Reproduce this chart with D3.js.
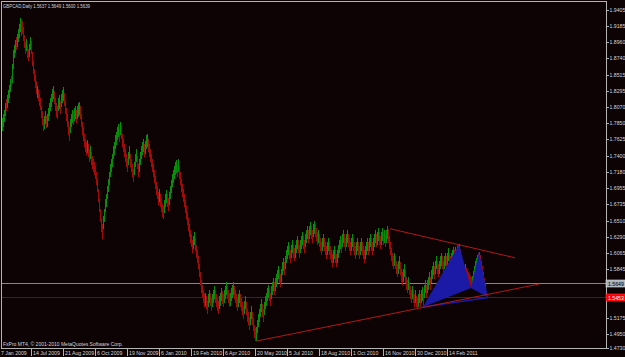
<!DOCTYPE html>
<html>
<head>
<meta charset="utf-8">
<style>
  body { margin: 0; background: #0d0305; }
  svg text { font-family: "Liberation Sans", Arial, sans-serif; fill: #d6d6d6; }
</style>
</head>
<body>
<svg id="chart" width="625" height="357"></svg>
<script src="https://cdn.jsdelivr.net/npm/d3@7/dist/d3.min.js"></script>
<script>
const titleText = "GBPCAD,Daily  1.5637 1.5649 1.5600 1.5639";
const copyrightText = "FxPro MT4, \u00a9 2001-2010 MetaQuotes Software Corp.";

// 1.5620 and 1.5400 sit under the price boxes, so they are not labelled
const priceTicks = [1.9405, 1.9185, 1.8960, 1.8740, 1.8515, 1.8295, 1.8070, 1.7850, 1.7625, 1.7400, 1.7180,
  1.6955, 1.6735, 1.6510, 1.6290, 1.6065, 1.5845, 1.5175, 1.4950, 1.4730];
const dateLabels = ["7 Jan 2009", "14 Jul 2009", "21 Aug 2009", "6 Oct 2009", "19 Nov 2009", "6 Jan 2010",
  "19 Feb 2010", "6 Apr 2010", "20 May 2010", "5 Jul 2010", "18 Aug 2010", "1 Oct 2010", "16 Nov 2010",
  "30 Dec 2010", "14 Feb 2011"];
const dateBars = [0, 32, 64, 96, 128, 160, 192, 224, 256, 288, 320, 352, 384, 416, 448];

// daily bars, oldest first
const highs = [
  1.792,1.797,1.803,1.812,1.818,1.824,1.830,1.838,1.846,1.850,
  1.866,1.886,1.893,1.899,1.903,1.908,1.914,1.921,1.929,1.928,
  1.925,1.917,1.906,1.897,1.900,1.893,1.887,1.894,1.904,1.898,
  1.883,1.871,1.860,1.851,1.843,1.836,1.832,1.825,1.820,1.809,
  1.801,1.791,1.795,1.801,1.795,1.798,1.806,1.812,1.820,1.825,
  1.832,1.836,1.829,1.819,1.812,1.809,1.819,1.823,1.815,1.825,
  1.831,1.834,1.826,1.815,1.806,1.798,1.788,1.779,1.790,1.798,
  1.803,1.801,1.806,1.809,1.803,1.809,1.812,1.814,1.809,1.798,
  1.787,1.779,1.770,1.763,1.759,1.762,1.756,1.750,1.754,1.745,
  1.740,1.736,1.732,1.726,1.718,1.708,1.694,1.681,1.667,1.653,
  1.646,1.657,1.667,1.681,1.688,1.699,1.708,1.718,1.729,1.736,
  1.743,1.754,1.759,1.768,1.773,1.780,1.784,1.777,1.787,1.781,
  1.770,1.763,1.756,1.750,1.743,1.736,1.745,1.754,1.743,1.736,
  1.729,1.722,1.732,1.743,1.750,1.740,1.729,1.736,1.745,1.754,
  1.759,1.763,1.756,1.761,1.768,1.770,1.763,1.756,1.750,1.743,
  1.736,1.729,1.721,1.712,1.704,1.699,1.690,1.694,1.688,1.681,
  1.674,1.671,1.679,1.688,1.693,1.688,1.682,1.690,1.699,1.707,
  1.715,1.721,1.726,1.732,1.734,1.729,1.736,1.726,1.718,1.708,
  1.701,1.694,1.688,1.679,1.671,1.663,1.654,1.646,1.638,1.632,
  1.624,1.630,1.635,1.627,1.618,1.610,1.602,1.591,1.580,1.569,
  1.563,1.555,1.550,1.552,1.547,1.541,1.550,1.556,1.552,1.544,
  1.550,1.555,1.561,1.555,1.550,1.544,1.541,1.547,1.552,1.558,
  1.554,1.550,1.555,1.561,1.566,1.561,1.555,1.550,1.552,1.558,
  1.563,1.566,1.561,1.555,1.550,1.544,1.550,1.555,1.550,1.544,
  1.539,1.533,1.541,1.547,1.539,1.530,1.525,1.519,1.525,1.533,
  1.525,1.517,1.508,1.503,1.505,1.514,1.522,1.530,1.536,1.543,
  1.536,1.529,1.539,1.547,1.552,1.558,1.563,1.558,1.552,1.561,
  1.566,1.572,1.566,1.572,1.577,1.583,1.588,1.583,1.577,1.585,
  1.594,1.599,1.594,1.602,1.610,1.616,1.621,1.616,1.610,1.618,
  1.624,1.618,1.613,1.618,1.624,1.630,1.624,1.618,1.624,1.630,
  1.635,1.630,1.624,1.632,1.638,1.643,1.638,1.643,1.649,1.643,
  1.638,1.646,1.650,1.646,1.641,1.635,1.638,1.632,1.627,1.621,
  1.627,1.632,1.627,1.621,1.616,1.621,1.627,1.621,1.616,1.610,
  1.605,1.610,1.616,1.610,1.605,1.610,1.618,1.624,1.630,1.624,
  1.632,1.638,1.632,1.627,1.632,1.638,1.632,1.627,1.621,1.627,
  1.632,1.627,1.621,1.616,1.621,1.627,1.621,1.616,1.621,1.627,
  1.621,1.616,1.610,1.616,1.621,1.627,1.621,1.627,1.632,1.627,
  1.621,1.627,1.632,1.638,1.632,1.635,1.641,1.635,1.630,1.635,
  1.641,1.635,1.638,1.632,1.638,1.643,1.640,1.630,1.621,1.613,
  1.607,1.602,1.607,1.602,1.596,1.591,1.596,1.602,1.594,1.585,
  1.580,1.585,1.591,1.583,1.574,1.569,1.574,1.566,1.561,1.555,
  1.561,1.555,1.550,1.555,1.547,1.545,1.550,1.555,1.550,1.555,
  1.560,1.552,1.563,1.569,1.563,1.569,1.574,1.580,1.574,1.583,
  1.588,1.594,1.588,1.596,1.602,1.596,1.591,1.596,1.602,1.607,
  1.602,1.596,1.602,1.607,1.602,1.607,1.613,1.607,1.602,1.607,
  1.611,1.614,1.610,1.615,1.612,1.616,1.617,1.619,1.612,1.604,
  1.597,1.592,1.588,1.591,1.586,1.583,1.580,1.577,1.575,1.574,
  1.575,1.582,1.589,1.595,1.600,1.604,1.606,1.608,1.603,1.596,
  1.588,1.580,1.572,1.565
];
const lows = [
  1.774,1.779,1.787,1.795,1.801,1.806,1.812,1.820,1.828,1.834,
  1.840,1.860,1.874,1.882,1.885,1.890,1.896,1.902,1.910,1.905,
  1.908,1.898,1.888,1.880,1.884,1.875,1.870,1.876,1.886,1.880,
  1.864,1.853,1.843,1.833,1.825,1.819,1.815,1.808,1.803,1.792,
  1.783,1.774,1.777,1.784,1.778,1.780,1.788,1.795,1.802,1.807,
  1.814,1.818,1.811,1.801,1.794,1.791,1.801,1.805,1.797,1.807,
  1.813,1.816,1.808,1.797,1.788,1.780,1.769,1.761,1.772,1.780,
  1.785,1.783,1.788,1.791,1.785,1.791,1.794,1.796,1.791,1.780,
  1.769,1.761,1.752,1.745,1.741,1.744,1.738,1.732,1.736,1.727,
  1.722,1.718,1.714,1.708,1.700,1.690,1.676,1.663,1.649,1.635,
  1.626,1.639,1.649,1.663,1.670,1.681,1.690,1.700,1.711,1.718,
  1.725,1.736,1.741,1.750,1.755,1.762,1.766,1.759,1.769,1.763,
  1.752,1.745,1.738,1.732,1.725,1.718,1.727,1.736,1.725,1.718,
  1.711,1.704,1.714,1.725,1.732,1.722,1.711,1.718,1.727,1.736,
  1.741,1.745,1.738,1.743,1.750,1.752,1.745,1.738,1.732,1.725,
  1.718,1.711,1.703,1.694,1.686,1.681,1.672,1.676,1.670,1.663,
  1.656,1.653,1.661,1.670,1.675,1.670,1.664,1.672,1.681,1.689,
  1.697,1.703,1.708,1.714,1.716,1.711,1.718,1.708,1.700,1.690,
  1.683,1.676,1.670,1.661,1.653,1.645,1.636,1.628,1.620,1.614,
  1.606,1.612,1.617,1.609,1.600,1.592,1.584,1.573,1.562,1.551,
  1.545,1.537,1.532,1.534,1.529,1.523,1.532,1.538,1.534,1.526,
  1.532,1.537,1.543,1.537,1.532,1.526,1.523,1.529,1.534,1.540,
  1.536,1.532,1.537,1.543,1.548,1.543,1.537,1.532,1.534,1.540,
  1.545,1.548,1.543,1.537,1.532,1.526,1.532,1.537,1.532,1.526,
  1.521,1.515,1.523,1.529,1.521,1.512,1.507,1.501,1.507,1.515,
  1.507,1.499,1.490,1.485,1.485,1.496,1.504,1.512,1.518,1.525,
  1.518,1.511,1.521,1.529,1.534,1.540,1.545,1.540,1.534,1.543,
  1.548,1.554,1.548,1.554,1.559,1.565,1.570,1.565,1.559,1.567,
  1.576,1.581,1.576,1.584,1.592,1.598,1.603,1.598,1.592,1.600,
  1.606,1.600,1.595,1.600,1.606,1.612,1.606,1.600,1.606,1.612,
  1.617,1.612,1.606,1.614,1.620,1.625,1.620,1.625,1.631,1.625,
  1.620,1.628,1.632,1.628,1.623,1.617,1.620,1.614,1.609,1.603,
  1.609,1.614,1.609,1.603,1.598,1.603,1.609,1.603,1.598,1.592,
  1.587,1.592,1.598,1.592,1.587,1.592,1.600,1.606,1.612,1.606,
  1.614,1.620,1.614,1.609,1.614,1.620,1.614,1.609,1.603,1.609,
  1.614,1.609,1.603,1.598,1.603,1.609,1.603,1.598,1.603,1.609,
  1.603,1.598,1.592,1.598,1.603,1.609,1.603,1.609,1.614,1.609,
  1.603,1.609,1.614,1.620,1.614,1.617,1.623,1.617,1.612,1.617,
  1.623,1.617,1.620,1.614,1.620,1.625,1.620,1.612,1.603,1.595,
  1.589,1.584,1.589,1.584,1.578,1.573,1.578,1.584,1.576,1.567,
  1.562,1.567,1.573,1.565,1.556,1.551,1.556,1.548,1.543,1.537,
  1.543,1.537,1.532,1.537,1.532,1.531,1.532,1.537,1.532,1.537,
  1.540,1.532,1.545,1.551,1.545,1.551,1.556,1.562,1.556,1.565,
  1.570,1.576,1.570,1.578,1.584,1.578,1.573,1.578,1.584,1.589,
  1.584,1.578,1.584,1.589,1.584,1.589,1.595,1.589,1.584,1.589,
  1.593,1.597,1.594,1.598,1.596,1.599,1.601,1.602,1.594,1.587,
  1.580,1.575,1.571,1.574,1.569,1.566,1.563,1.561,1.560,1.558,
  1.560,1.566,1.572,1.578,1.583,1.587,1.590,1.591,1.586,1.579,
  1.571,1.563,1.557,1.560
];
// g = bull bar, r = bear bar
const barDirs =
  "ggggrggggr" + "ggggrggggr" + "rrrrgrrggr" + "rrrrrgrrrr" + "rrggrggggg" +
  "ggrrrrggrg" + "ggrrrrrrgg" + "grggrgggrr" + "rrrrrgrrgr" + "rrrrrrrrrr" +
  "rggggggggg" + "gggggggrgr" + "rrrrrrggrr" + "rrgggrrggg" + "ggrgggrrrr" +
  "rrrrrrrgrr" + "rrgggrrggg" + "gggggrgrrr" + "rrrrrrrrrr" + "rggrrrrrrr" +
  "rrrgrrggrr" + "gggrrrrggg" + "rrgggrrrgg" + "ggrrrrggrr" + "rrggrrrrgg" +
  "rrrrgggggg" + "rrgggggrrg" + "ggrggggrrg" + "ggrggggrrg" + "grrgggrrgg" +
  "grrgggrggr" + "rggrrrgrrr" + "ggrrrggrrr" + "rggrrggggr" + "ggrrggrrrg" +
  "grrrggrrgg" + "rrrgggrggr" + "rgggrggrrg" + "grgrggrrrr" + "rrgrrrggrr" +
  "rggrrrgrrr" + "grrgrrggrg" + "grggrgggrg" + "ggrggrrggg" + "rrggrggrrg" +
  "ggrgrgggrr" + "rrrgrrrrrr" + "ggggggrgrr" + "rrrg";

const bidPrice = 1.5649;
const targetPrice = 1.5453;
// trend lines: [bar index, price]
const upperTrend = [[388, 1.6398], [513, 1.5998]];
const lowerTrend = [[254.5, 1.4853], [537, 1.5637]];
// harmonic pattern points X A B C D: [bar index, price]
const patternBars = [421, 457, 469, 477, 486];
const patternPrices = [1.5322, 1.6177, 1.5584, 1.6081, 1.5453];

const svg = d3.select("#chart");
const plotRight = 606, plotBottom = 348;

svg.append("rect").attr("width", 625).attr("height", 357).attr("fill", "#0d0305");

svg.append("defs").append("clipPath").attr("id", "plot")
  .append("rect").attr("x", 1).attr("y", 1).attr("width", plotRight - 1).attr("height", plotBottom - 1);

const x = d3.scaleLinear().domain([0, 604]).range([2, 606]);
const y = d3.scaleLinear().domain([1.4730, 1.9405]).range([350, 10]);

const plot = svg.append("g").attr("clip-path", "url(#plot)");

// bid and target lines
plot.append("line")
  .attr("x1", 1).attr("x2", plotRight).attr("y1", Math.round(y(bidPrice)) + 0.5).attr("y2", Math.round(y(bidPrice)) + 0.5)
  .attr("stroke", "#77889a").attr("stroke-width", 1);
plot.append("line")
  .attr("x1", 1).attr("x2", plotRight).attr("y1", Math.round(y(targetPrice)) + 0.5).attr("y2", Math.round(y(targetPrice)) + 0.5)
  .attr("stroke", "#8e0000").attr("stroke-width", 1);

// bars
let bars = highs.map((h, i) => ({ i: i, h: h, l: lows[i], up: barDirs[i] === "g" }));
plot.append("g").attr("shape-rendering", "crispEdges")
  .selectAll("rect")
  .data(bars)
  .join("rect")
  .attr("x", d => x(d.i))
  .attr("width", 1)
  .attr("y", d => y(d.h))
  .attr("height", d => Math.max(1, y(d.l) - y(d.h)))
  .attr("fill", d => d.up ? "#078d07" : "#a50a0a");

// harmonic pattern: triangles XAB and BCD, plus the X-D leg
let pts = patternBars.map((b, i) => [x(b), y(patternPrices[i])]);
let tris = [[pts[0], pts[1], pts[2]], [pts[2], pts[3], pts[4]]];
plot.selectAll("polygon.tri")
  .data(tris)
  .join("polygon")
  .attr("class", "tri")
  .attr("points", d => d.map(p => p.join(",")).join(" "))
  .attr("fill", "#1a1aa6");
plot.append("line")
  .attr("x1", pts[0][0]).attr("y1", pts[0][1])
  .attr("x2", pts[4][0]).attr("y2", pts[4][1])
  .attr("stroke", "#1a1aa6").attr("stroke-width", 1.5);

// trend lines
plot.selectAll("line.trend")
  .data([upperTrend, lowerTrend])
  .join("line")
  .attr("class", "trend")
  .attr("x1", d => x(d[0][0])).attr("y1", d => y(d[0][1]))
  .attr("x2", d => x(d[1][0])).attr("y2", d => y(d[1][1]))
  .attr("stroke", "#b01818").attr("stroke-width", 1);

// frame
svg.append("rect")
  .attr("x", 1.5).attr("y", 1.5).attr("width", plotRight - 1.5).attr("height", plotBottom - 1.5)
  .attr("fill", "none").attr("stroke", "#b4b4b4").attr("stroke-width", 1)
  .attr("shape-rendering", "crispEdges");

// price axis
let pAxis = svg.append("g");
pAxis.selectAll("line")
  .data(priceTicks)
  .join("line")
  .attr("x1", plotRight).attr("x2", plotRight + 3)
  .attr("y1", d => Math.min(348, Math.round(y(d))) + 0.5).attr("y2", d => Math.min(348, Math.round(y(d))) + 0.5)
  .attr("stroke", "#b4b4b4");
pAxis.selectAll("text")
  .data(priceTicks)
  .join("text")
  .attr("x", plotRight + 3.5)
  .attr("y", d => Math.min(348, y(d)) + 2)
  .attr("font-size", 5.2)
  .text(d => d.toFixed(4));

// date axis
let dAxis = svg.append("g");
dAxis.selectAll("line")
  .data(dateBars)
  .join("line")
  .attr("x1", d => Math.round(x(d)) - 2.5).attr("x2", d => Math.round(x(d)) - 2.5)
  .attr("y1", plotBottom).attr("y2", 356)
  .attr("stroke", "#b4b4b4");
dAxis.selectAll("text")
  .data(dateLabels)
  .join("text")
  .attr("x", (d, i) => x(dateBars[i]) - 1)
  .attr("y", 355)
  .attr("font-size", 5.2)
  .text(d => d);

// price boxes on the axis
function priceBox(price, fill, stroke, color) {
  let yy = Math.round(y(price)) + 0.5;
  svg.append("rect").attr("x", plotRight).attr("y", yy - 3.5).attr("width", 19).attr("height", 7)
    .attr("fill", fill).attr("stroke", stroke).attr("stroke-width", 0.6);
  svg.append("text").attr("x", plotRight + 2).attr("y", yy + 2).attr("font-size", 5.2)
    .style("fill", color).text(price.toFixed(4));
}
priceBox(bidPrice, "#a4afbc", "#e0e0e0", "#000000");
priceBox(targetPrice, "#ff0000", "#ff3030", "#ffffff");

// captions
svg.append("text").attr("x", 3).attr("y", 7.5).attr("font-size", 5)
  .attr("textLength", 87).attr("lengthAdjust", "spacingAndGlyphs").text(titleText);
svg.append("text").attr("x", 3).attr("y", 346).attr("font-size", 5)
  .attr("textLength", 120).attr("lengthAdjust", "spacingAndGlyphs").text(copyrightText);
</script>
</body>
</html>
